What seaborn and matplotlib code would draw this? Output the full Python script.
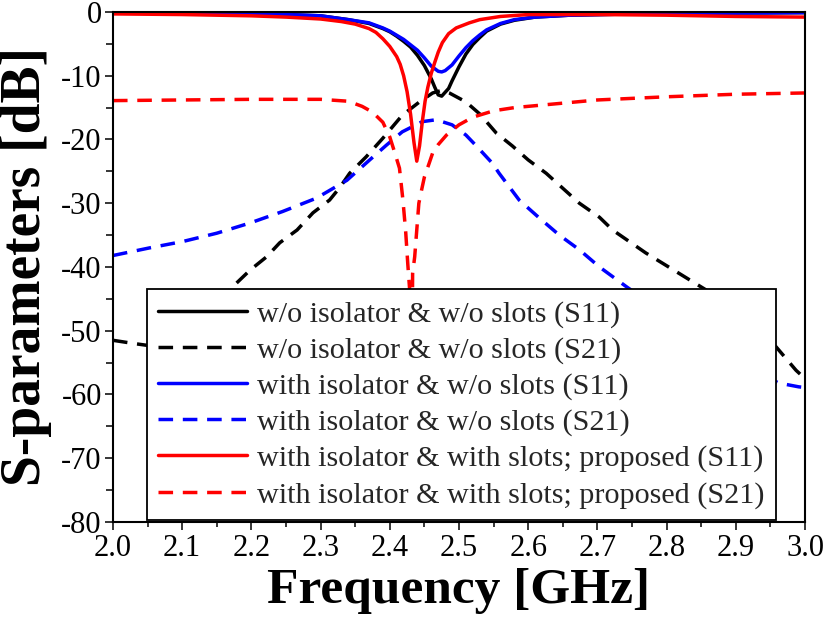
import matplotlib

matplotlib.use("Agg")
import matplotlib.pyplot as plt
from matplotlib.ticker import FormatStrFormatter, MultipleLocator
import seaborn as sns

# w/o isolator & w/o slots
f_s11_plain = [2.00, 2.10, 2.20, 2.25, 2.30, 2.34, 2.37, 2.39, 2.40, 2.41, 2.42, 2.43, 2.44,
               2.45, 2.46, 2.465, 2.47, 2.475, 2.48, 2.485, 2.49, 2.50, 2.51, 2.52, 2.53,
               2.54, 2.56, 2.58, 2.61, 2.66, 2.75, 2.85, 3.00]
s11_plain = [-0.1, -0.1, -0.25, -0.4, -0.6, -1.2, -1.8, -2.6, -3.1, -3.8, -4.6, -5.5, -6.8,
             -8.4, -10.5, -11.8, -13.0, -13.2, -12.6, -12.0, -10.8, -8.6, -6.6, -5.1, -4.0,
             -3.0, -1.9, -1.3, -0.8, -0.5, -0.3, -0.2, -0.1]
f_s21_plain = [2.00, 2.03, 2.05, 2.08, 2.10, 2.13, 2.15, 2.173, 2.198, 2.222, 2.241, 2.266,
               2.289, 2.313, 2.328, 2.342, 2.366, 2.39, 2.418, 2.443, 2.462, 2.475, 2.486,
               2.51, 2.53, 2.554, 2.577, 2.60, 2.626, 2.674, 2.703, 2.722, 2.77, 2.818,
               2.857, 2.90, 2.93, 2.958, 2.987, 3.00]
s21_plain = [-51.5, -52.0, -52.3, -51.5, -50.0, -47.5, -45.8, -43.1, -40.5, -38.4, -36.2, -34.2,
             -31.5, -29.5, -27.5, -25.3, -22.7, -19.8, -16.2, -14.1, -12.7, -12.3, -12.7,
             -14.1, -16.0, -19.0, -21.0, -23.2, -25.3, -30.0, -32.2, -34.2, -37.8, -41.0,
             -43.6, -47.0, -50.0, -52.5, -56.2, -57.5]

# with isolator & w/o slots
f_s11_iso = [2.00, 2.10, 2.20, 2.25, 2.30, 2.34, 2.37, 2.39, 2.40, 2.42, 2.44, 2.45, 2.46,
             2.47, 2.475, 2.48, 2.49, 2.50, 2.51, 2.52, 2.53, 2.54, 2.56, 2.58, 2.61, 2.66,
             2.75, 2.85, 3.00]
s11_iso = [-0.1, -0.1, -0.25, -0.4, -0.6, -1.2, -1.7, -2.5, -3.0, -4.3, -6.0, -7.2, -8.5,
           -9.3, -9.4, -9.2, -8.3, -6.9, -5.6, -4.5, -3.6, -2.8, -1.8, -1.2, -0.8, -0.5,
           -0.3, -0.2, -0.1]
f_s21_iso = [2.00, 2.053, 2.101, 2.15, 2.198, 2.245, 2.294, 2.338, 2.371, 2.395, 2.418, 2.447,
             2.467, 2.49, 2.51, 2.525, 2.548, 2.558, 2.587, 2.616, 2.645, 2.674, 2.703, 2.742,
             2.80, 2.85, 2.90, 2.93, 2.962, 2.991, 3.00]
s21_iso = [-38.2, -37.0, -36.0, -34.7, -33.1, -31.3, -29.2, -26.4, -23.2, -20.9, -18.8, -17.2,
           -16.9, -17.7, -19.3, -21.0, -23.7, -25.3, -29.5, -32.3, -35.0, -37.3, -40.0, -43.1,
           -47.5, -51.2, -54.5, -56.5, -58.2, -58.8, -58.9]

# with isolator & with slots (proposed)
f_s11_prop = [2.00, 2.10, 2.20, 2.25, 2.30, 2.33, 2.35, 2.37, 2.38, 2.39, 2.40, 2.41, 2.415,
              2.42, 2.425, 2.43, 2.435, 2.439, 2.443, 2.447, 2.451, 2.455, 2.46, 2.465, 2.47,
              2.476, 2.485, 2.496, 2.515, 2.53, 2.56, 2.60, 2.70, 2.80, 2.90, 3.00]
s11_prop = [-0.3, -0.4, -0.6, -0.8, -1.1, -1.5, -1.9, -2.6, -3.2, -4.2, -5.4, -7.0, -8.2,
            -10.0, -12.5, -16.0, -20.5, -23.4, -21.0, -17.2, -14.0, -11.8, -9.6, -7.9, -6.3,
            -4.8, -3.4, -2.5, -1.7, -1.2, -0.7, -0.4, -0.4, -0.5, -0.7, -0.8]
f_s21_prop = [2.00, 2.10, 2.20, 2.30, 2.34, 2.36, 2.375, 2.39, 2.40, 2.407, 2.414, 2.419,
              2.423, 2.426, 2.429, 2.431, 2.433, 2.436, 2.439, 2.442, 2.446, 2.450, 2.457,
              2.462, 2.47, 2.482, 2.50, 2.52, 2.55, 2.58, 2.63, 2.67, 2.70, 2.80, 2.90, 3.00]
s21_prop = [-13.9, -13.8, -13.7, -13.7, -14.0, -14.8, -15.7, -17.3, -19.6, -22.0, -24.5, -29.5,
            -34.5, -39.5, -44.0, -75.0, -41.0, -38.4, -34.2, -30.0, -27.9, -25.9, -23.7,
            -22.1, -20.8, -19.3, -17.7, -16.5, -15.5, -15.0, -14.5, -14.1, -13.8, -13.3,
            -12.9, -12.7]

labels = [
    "w/o isolator & w/o slots (S11)",
    "w/o isolator & w/o slots (S21)",
    "with isolator & w/o slots (S11)",
    "with isolator & w/o slots (S21)",
    "with isolator & with slots; proposed (S11)",
    "with isolator & with slots; proposed (S21)",
]

sns.set_theme(style="ticks")
plt.rcParams["font.family"] = ["Liberation Serif", "DejaVu Serif"]
plt.rcParams["axes.unicode_minus"] = False

fig = plt.figure(figsize=(8.27, 6.28), dpi=100)
ax = fig.add_axes([0.1366, 0.1688, 0.8368, 0.8121])

dash = (0, (4.2, 2.8))
series = [
    (f_s11_plain, s11_plain, "#000000", "-"),
    (f_s21_plain, s21_plain, "#000000", dash),
    (f_s11_iso, s11_iso, "#0000ff", "-"),
    (f_s21_iso, s21_iso, "#0000ff", dash),
    (f_s11_prop, s11_prop, "#ff0000", "-"),
    (f_s21_prop, s21_prop, "#ff0000", dash),
]
for (f, s, color, ls), label in zip(series, labels):
    sns.lineplot(x=f, y=s, color=color, linestyle=ls, linewidth=2.5, label=label,
                 ax=ax, legend=False)

ax.set_xlim(2.0, 3.0)
ax.set_ylim(-80, 0)
ax.xaxis.set_major_locator(MultipleLocator(0.1))
ax.xaxis.set_minor_locator(MultipleLocator(0.05))
ax.xaxis.set_major_formatter(FormatStrFormatter("%.1f"))
ax.yaxis.set_major_locator(MultipleLocator(10))
ax.yaxis.set_minor_locator(MultipleLocator(5))
ax.tick_params(axis="both", which="both", direction="out", colors="black",
               labelsize=22, width=1.1, top=False, right=False)
ax.tick_params(axis="x", which="major", length=5.5, pad=3)
ax.tick_params(axis="x", which="minor", length=3.5)
ax.tick_params(axis="y", which="major", length=6, pad=2)
ax.tick_params(axis="y", which="minor", length=5)
for spine in ax.spines.values():
    spine.set_visible(True)
    spine.set_color("black")
    spine.set_linewidth(1.5)

ax.set_xlabel("Frequency [GHz]", fontsize=37, fontweight="bold", color="black")
ax.set_ylabel("S-parameters [dB]", fontsize=40, fontweight="bold", color="black")
ax.xaxis.set_label_coords(0.5, -0.09)
ax.yaxis.set_label_coords(-0.088, 0.5)

leg = ax.legend(loc="lower left", bbox_to_anchor=(0.049, 0.004), borderaxespad=0,
                fontsize=21.7, frameon=True, fancybox=False, framealpha=1,
                edgecolor="black", handlelength=2.95, handletextpad=0.33,
                labelspacing=0.29, borderpad=0.38)
leg.get_frame().set_linewidth(1.3)

fig.savefig("out.png", dpi=100)
